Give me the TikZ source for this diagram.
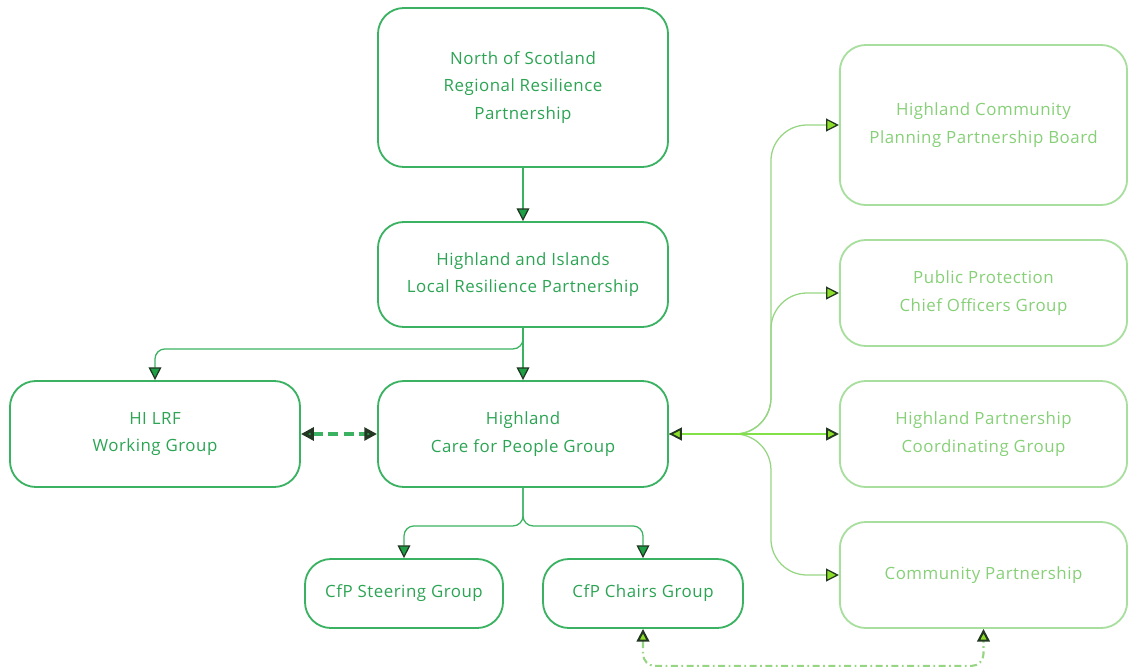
\documentclass[tikz,border=0pt]{standalone}
\usepackage{fontspec}
\setmainfont{Open Sans}[LetterSpace=3]
\usetikzlibrary{arrows.meta}

\definecolor{cfpgreen}{RGB}{58,178,98}
\definecolor{cfptext}{RGB}{44,164,84}
\definecolor{cppgreen}{RGB}{168,222,158}
\definecolor{cpptext}{RGB}{135,208,120}
\definecolor{cpplink}{RGB}{150,214,130}
\definecolor{cpplime}{RGB}{130,225,70}
\definecolor{tipdark}{RGB}{35,55,35}
\definecolor{tipgreen}{RGB}{30,160,70}
\definecolor{tiplime}{RGB}{140,222,40}

\tikzset{
    gtip/.tip={Triangle[length=0.32cm,width=0.32cm,fill=tipgreen,color=tipdark]},
    ltip/.tip={Triangle[length=0.32cm,width=0.32cm,fill=tiplime,color=tipdark]},
}

\begin{document}
\begin{tikzpicture}[x=0.025cm, y=-0.025cm,
    box/.style={draw=cfpgreen, line width=1.3pt, rounded corners=0.65cm, text=cfptext,
        align=center, font=\fontsize{12}{19.5}\selectfont, minimum width=7.25cm},
    pbox/.style={box, draw=cppgreen, text=cpptext, minimum width=7.18cm},
    link/.style={cfpgreen, line width=0.9pt, rounded corners=0.25cm, -gtip},
    plink/.style={cpplink, line width=0.9pt, rounded corners=0.9cm, -ltip},
    qlink/.style={cpplink, line width=1.5pt, rounded corners=0.3cm,
        dash pattern=on 5pt off 2.5pt on 1.2pt off 2.5pt, ltip-ltip}]

    \useasboundingbox (0,0) rectangle (1128,671);

    % left side
    \node[box, minimum height=3.975cm] (nos) at (523,87.5) {North of Scotland\\Regional Resilience\\Partnership};
    \node[box, minimum height=2.625cm] (hilrp) at (523,274.5) {Highland and Islands\\Local Resilience Partnership};
    \node[box, minimum height=2.65cm] (hilrf) at (155,434) {HI LRF\\Working Group};
    \node[box, minimum height=2.65cm] (cfp) at (523,434) {Highland\\Care for People Group};
    \node[box, minimum height=1.725cm, minimum width=4.95cm] (steer) at (404,593.5) {CfP Steering Group};
    \node[box, minimum height=1.725cm, minimum width=5cm] (chairs) at (643,593.5) {CfP Chairs Group};

    % right side
    \node[pbox, minimum height=4cm] (hcppb) at (983.5,125) {Highland Community\\Planning Partnership Board};
    \node[pbox, minimum height=2.65cm] (ppcog) at (983.5,293) {Public Protection\\Chief Officers Group};
    \node[pbox, minimum height=2.65cm] (hpcg) at (983.5,434) {Highland Partnership\\Coordinating Group};
    \node[pbox, minimum height=2.65cm] (cp) at (983.5,575) {Community Partnership};

    \draw[link] (nos) -- (hilrp);
    \draw[link] (hilrp) -- (cfp);
    \draw[link] (hilrp.south) -- ++(0,21) -| (hilrf.north);
    \draw[cfpgreen, line width=2.4pt, dash pattern=on 7pt off 4pt, gtip-gtip] (hilrf) -- (cfp);
    \draw[link] (cfp.south) -- ++(0,38) -| (steer.north);
    \draw[link] (cfp.south) -- ++(0,38) -| (chairs.north);

    \draw[plink] (cfp.east) -- ++(102,0) |- (hcppb.west);
    \draw[plink] (cfp.east) -- ++(102,0) |- (ppcog.west);
    \draw[plink] (cfp.east) -- ++(102,0) |- (cp.west);
    \draw[plink, draw=cpplime, line width=1.3pt, ltip-ltip] (cfp) -- (hpcg);
    \draw[qlink] (chairs.south) -- ++(0,37) -| (cp.south);
\end{tikzpicture}
\end{document}
